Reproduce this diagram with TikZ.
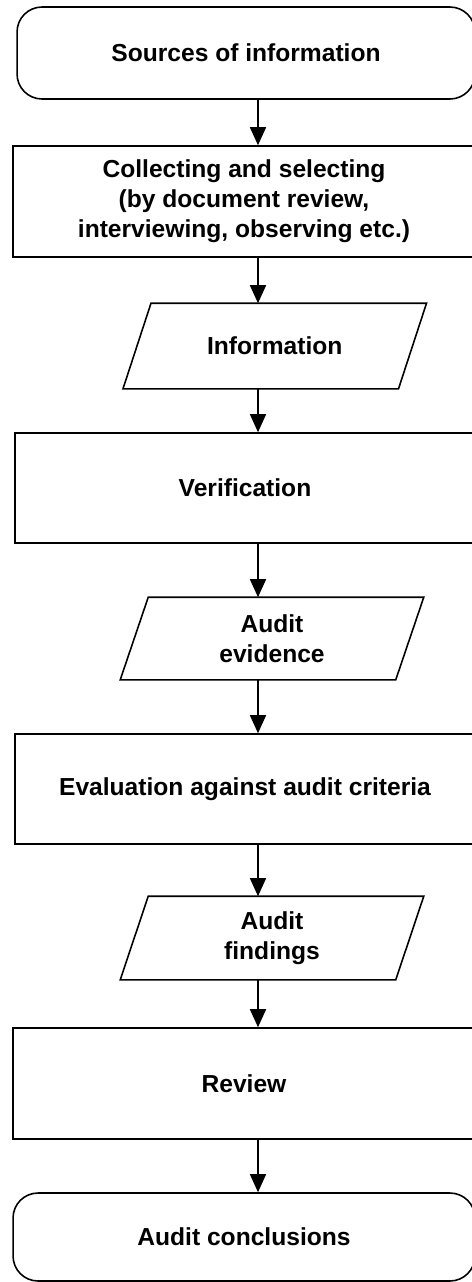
\documentclass[tikz,border=0pt]{standalone}
\usepackage{fontspec}
\setmainfont{Liberation Sans}
\usetikzlibrary{arrows.meta,calc}

\begin{document}
\begin{tikzpicture}[x=0.02cm,y=-0.02cm,line width=0.9pt,
    font=\bfseries\fontsize{14}{17}\selectfont,
    every node/.style={align=center,inner sep=0pt},
    terminal/.style={draw,rounded corners=0.5cm},
    process/.style={draw},
    iobox/.style={minimum width=5.48cm}]
      \useasboundingbox (0,0) rectangle (472,1282);
      \clip (0,0) rectangle (472,1282);
      \coordinate (axis) at (258,0);
      \draw
        (246,53) node[terminal,minimum width=9.16cm,minimum height=1.84cm] (src){Sources of information}
        (244,201.5) node[process,minimum width=9.24cm,minimum height=2.22cm] (collect){Collecting and selecting\\ (by document review,\\ interviewing, observing etc.)}
        (274.75,346) node[iobox,minimum height=1.68cm] (info){Information}
        (245,488) node[process,minimum width=9.2cm,minimum height=2.2cm] (verif){Verification}
        (272,638.5) node[iobox,minimum height=1.62cm] (evid){Audit\\ evidence}
        (245,789) node[process,minimum width=9.2cm,minimum height=2.2cm] (eval){Evaluation against audit criteria}
        (272,938) node[iobox,minimum height=1.64cm] (find){Audit\\ findings}
        (244,1083.5) node[process,minimum width=9.24cm,minimum height=2.22cm] (review){Review}
        (244,1237) node[terminal,minimum width=9.24cm,minimum height=1.76cm] (concl){Audit conclusions};
      % slanted boxes for the data
      \foreach \n in {info,evid,find}
        \draw ($(\n.north west)+(14,0)$) -- ($(\n.north east)+(14,0)$)
          -- ($(\n.south east)+(-14,0)$) -- ($(\n.south west)+(-14,0)$) -- cycle;
      \begin{scope}[-{Triangle[length=0.36cm,width=0.32cm]}]
        \draw (src.south -| axis) to (collect.north -| axis);
        \draw (collect.south -| axis) to (info.north -| axis);
        \draw (info.south -| axis) to (verif.north -| axis);
        \draw (verif.south -| axis) to (evid.north -| axis);
        \draw (evid.south -| axis) to (eval.north -| axis);
        \draw (eval.south -| axis) to (find.north -| axis);
        \draw (find.south -| axis) to (review.north -| axis);
        \draw (review.south -| axis) to (concl.north -| axis);
      \end{scope}
    \end{tikzpicture}
\end{document}
